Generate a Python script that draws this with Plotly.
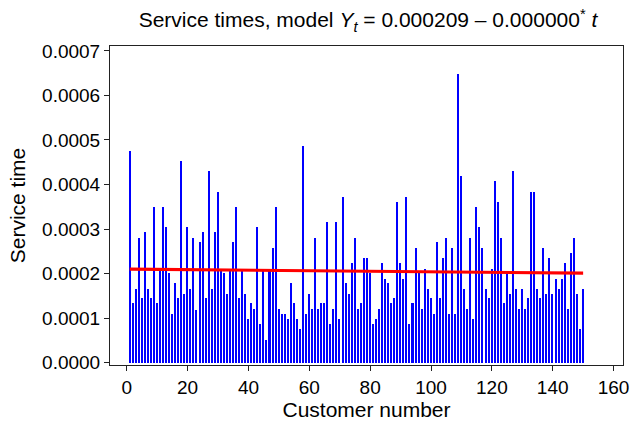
import plotly.graph_objects as go

customers = list(range(1, 151))
service_e4 = [
    4.76, 1.33, 1.66, 2.81, 1.46, 2.93, 1.66, 1.46, 3.49, 1.33,
    2.09, 3.49, 3.04, 2.01, 1.10, 1.79, 1.46, 4.52, 1.54, 3.04,
    1.66, 2.81, 1.19, 2.70, 2.93, 1.46, 4.31, 1.66, 2.93, 3.84,
    2.09, 2.01, 1.55, 2.09, 2.70, 3.49, 1.46, 2.09, 1.55, 0.99,
    1.33, 1.21, 3.04, 0.86, 2.09, 0.52, 2.09, 2.58, 3.49, 1.21,
    1.10, 1.10, 0.99, 1.79, 1.33, 0.99, 0.76, 4.87, 1.10, 1.55,
    1.21, 2.81, 1.21, 1.33, 1.33, 3.15, 0.86, 1.21, 3.15, 0.99,
    3.73, 1.79, 1.55, 2.24, 2.81, 1.21, 1.33, 2.36, 2.36, 2.01,
    0.86, 0.99, 1.21, 2.24, 1.89, 1.79, 1.33, 1.46, 3.61, 2.24,
    1.89, 3.73, 0.86, 1.33, 2.58, 2.01, 1.21, 2.11, 1.66, 1.46,
    1.10, 2.70, 1.46, 2.36, 2.81, 1.10, 2.58, 1.10, 6.48, 4.19,
    1.66, 1.21, 2.81, 0.99, 3.49, 3.04, 2.58, 1.66, 1.46, 2.11,
    4.07, 3.61, 2.81, 1.33, 2.01, 1.55, 4.31, 1.66, 1.21, 1.66,
    1.21, 1.46, 3.84, 3.84, 1.66, 1.46, 2.58, 1.55, 2.36, 1.55,
    1.89, 1.66, 1.89, 2.24, 1.21, 2.47, 2.81, 1.55, 0.76, 1.66,
]
service_times = [v * 1e-4 for v in service_e4]

fit_t = [1, 150]
fit_y = [0.000210, 0.000201]

y_ticks = [0.0, 0.0001, 0.0002, 0.0003, 0.0004, 0.0005, 0.0006, 0.0007]
x_ticks = [0, 20, 40, 60, 80, 100, 120, 140, 160]

font_family = "Liberation Sans, Arial, Helvetica, sans-serif"

fig = go.Figure()
fig.add_trace(go.Bar(
    x=customers, y=service_times, width=0.5,
    marker=dict(color="#0000ff", line=dict(width=0)),
    showlegend=False,
))
fig.add_trace(go.Scatter(
    x=fit_t, y=fit_y, mode="lines",
    line=dict(color="#ff0000", width=3.2),
    showlegend=False,
))

fig.update_layout(
    width=631, height=422,
    margin=dict(l=110, r=8, t=46, b=57, autoexpand=False),
    paper_bgcolor="white", plot_bgcolor="white",
    font=dict(family=font_family, size=19, color="black"),
    title=dict(
        text="Service times, model <i>Y</i><sub><i>t</i></sub> = 0.000209 \u2013 0.000000<sup>*</sup> <i>t</i>",
        x=368 / 631, xref="container", xanchor="center",
        y=1 - 20 / 422, yref="container", yanchor="middle",
        font=dict(size=21, family=font_family),
    ),
    bargap=0,
)
fig.update_xaxes(
    range=[-5.5, 163.1], tickvals=x_ticks, ticktext=[str(v) for v in x_ticks],
    ticks="outside", ticklen=5, tickwidth=1, tickcolor="#222",
    showline=True, linecolor="#222", linewidth=1, mirror=True,
    showgrid=False, zeroline=False, automargin=False,
    title=dict(text="Customer number", font=dict(size=21), standoff=5),
    tickfont=dict(size=19),
)
fig.update_yaxes(
    range=[-0.0000052, 0.000711], tickvals=y_ticks, tickformat=".4f",
    ticks="outside", ticklen=5, tickwidth=1, tickcolor="#222",
    showline=True, linecolor="#222", linewidth=1, mirror=True,
    showgrid=False, zeroline=False, automargin=False,
    title=dict(text="Service time", font=dict(size=21), standoff=10),
    tickfont=dict(size=19),
)

fig.write_html(
    "out.html",
    config={"displayModeBar": False},
    post_script="document.body.style.margin='0px';",
)
